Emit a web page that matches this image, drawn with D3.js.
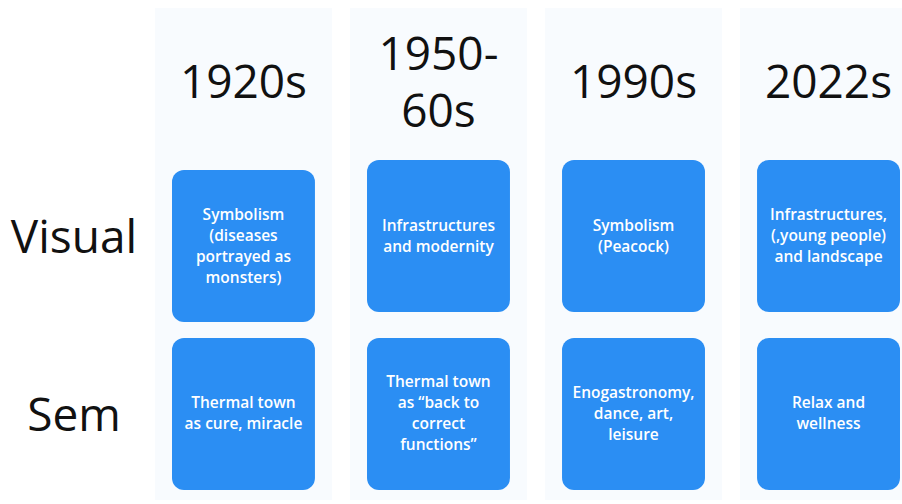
<!DOCTYPE html>
<html>
<head>
<meta charset="utf-8">
<script src="https://cdn.jsdelivr.net/npm/d3@7"></script>
<style>
  html, body { margin: 0; padding: 0; background: #ffffff; }
  svg { display: block; }
</style>
</head>
<body>
<svg id="chart" width="902" height="504"></svg>
<script>
// ---- data ----
const periods = ["1920s", "1950-60s", "1990s", "2022s"];
const periodLines = [["1920s"], ["1950-", "60s"], ["1990s"], ["2022s"]];
const rows = ["Visual", "Sem"];
const visualTexts = [
  ["Symbolism", "(diseases", "portrayed as", "monsters)"],
  ["Infrastructures", "and modernity"],
  ["Symbolism", "(Peacock)"],
  ["Infrastructures,", "(,young people)", "and landscape"]
];
const semTexts = [
  ["Thermal town", "as cure, miracle"],
  ["Thermal town", "as \u201cback to", "correct", "functions\u201d"],
  ["Enogastronomy,", "dance, art,", "leisure"],
  ["Relax and", "wellness"]
];

// ---- layout ----
const W = 902, H = 504;
const svg = d3.select("#chart");
const blue = "#2b8ef3";

const x = d3.scaleBand().domain(periods).range([172, 900]).paddingInner(0.267);
const y = d3.scaleBand().domain(rows).range([160, 490]).paddingInner(0.145);

const cells = [];
rows.forEach((r, ri) => {
  const texts = ri === 0 ? visualTexts : semTexts;
  periods.forEach((p, pi) => {
    cells.push({ row: r, period: p, lines: texts[pi],
      dy: (ri === 0 && pi === 0) ? 10 : 0 });
  });
});

// background panels
const panelW = 177;
svg.append("g").selectAll("rect").data(periods).join("rect")
  .attr("x", d => x(d) + x.bandwidth() / 2 - panelW / 2)
  .attr("y", 8)
  .attr("width", panelW)
  .attr("height", 492)
  .attr("fill", "#f8fbfe");

// headers
const hdr = svg.append("g");
periods.forEach((p, i) => {
  const lines = periodLines[i];
  const t = hdr.append("text")
    .attr("x", x(p) + x.bandwidth() / 2)
    .attr("text-anchor", "middle")
    .attr("font-family", "'Open Sans', sans-serif")
    .attr("font-size", 46)
    .attr("fill", "#111");
  if (lines.length === 1) {
    t.append("tspan").attr("x", x(p) + x.bandwidth() / 2).attr("y", 98).text(lines[0]);
  } else {
    lines.forEach((l, li) => {
      t.append("tspan").attr("x", x(p) + x.bandwidth() / 2).attr("y", 70 + li * 57).text(l);
    });
  }
});

// row labels
svg.append("g").selectAll("text").data(rows).join("text")
  .attr("x", 74)
  .attr("y", d => y(d) + y.bandwidth() / 2 + 17)
  .attr("text-anchor", "middle")
  .attr("font-family", "'Open Sans', sans-serif")
  .attr("font-size", 46)
  .attr("fill", "#111")
  .text(d => d);

// boxes
const g = svg.append("g").selectAll("g").data(cells).join("g")
  .attr("transform", d => `translate(${x(d.period)},${y(d.row) + d.dy})`);

g.append("rect")
  .attr("width", x.bandwidth())
  .attr("height", y.bandwidth())
  .attr("rx", 12).attr("ry", 12)
  .attr("fill", blue);

const lh = 21;
g.append("text")
  .attr("text-anchor", "middle")
  .attr("font-family", "'Open Sans', sans-serif")
  .attr("font-size", 15.5)
  .attr("font-weight", 600)
  .attr("fill", "#ffffff")
  .each(function(d) {
    const n = d.lines.length;
    const t = d3.select(this);
    d.lines.forEach((l, i) => {
      t.append("tspan")
        .attr("x", x.bandwidth() / 2)
        .attr("y", y.bandwidth() / 2 + (i - (n - 1) / 2) * lh + 5)
        .text(l);
    });
  });
</script>
</body>
</html>
